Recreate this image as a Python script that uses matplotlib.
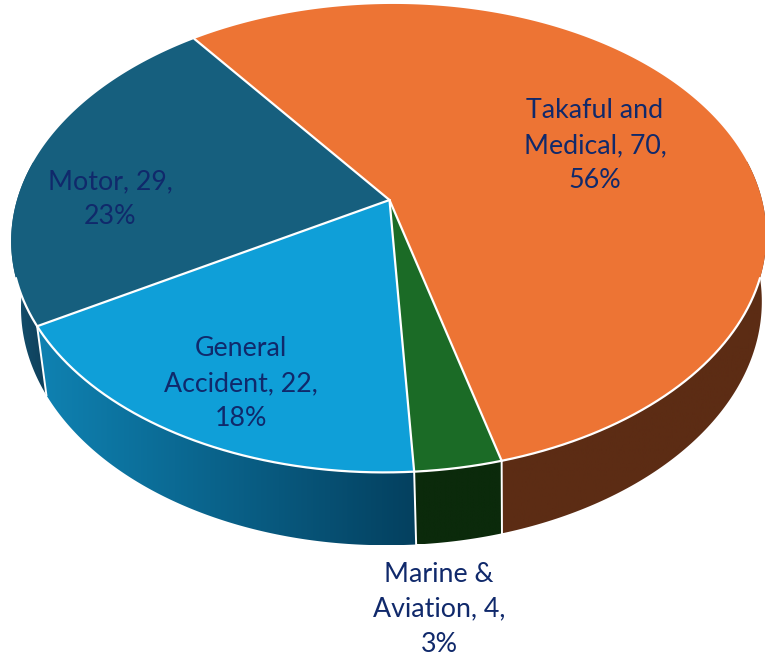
import numpy as np
import matplotlib
matplotlib.use("Agg")
import matplotlib.pyplot as plt
from matplotlib.colors import LinearSegmentedColormap
from matplotlib.patches import Polygon

values = [70, 4, 22, 29]
label_texts = ["Takaful and\nMedical, 70,\n56%", "Marine &\nAviation, 4,\n3%", "General\nAccident, 22,\n18%", "Motor, 29,\n23%"]
label_pos = [(595, 146), (439, 609), (241, 384), (110, 199)]
top_colors = ["#ED7434", "#1B6B26", "#0F9FD8", "#165F7E"]
side_colors = [("#5C2C14", "#5C2C14"), ("#0B2A0B", "#0B2A0B"), ("#0F82B2", "#04405F"), ("#14516F", "#0E3F5A")]
TEXT_COLOR = "#10296B"

# perspektywa: srodek kola na (389, 200)
X0, Y0 = 389.5, 200.0
A, B, K = 372.5, 228.0, 0.163
SKEW = -0.02
START = -37.0
LOW_DX, LOW_DY, LOW_SX, LOW_SY = 4.0, 65.5, 0.981, 1.027


def rim(ang, lower=False):
    a = np.radians(ang)
    u, v = np.sin(a), np.cos(a)
    den = 1 + K * v
    x = A * u / den
    y = -B * v / den
    if lower:
        y = LOW_DY + LOW_SY * y
        x = LOW_DX + LOW_SX * x
    return X0 + x + SKEW * y, Y0 + y


fig = plt.figure(figsize=(7.65, 6.55), dpi=100)
ax = fig.add_axes([0, 0, 1, 1])
ax.set_xlim(0, 765)
ax.set_ylim(655, 0)
ax.axis("off")

sweeps = np.array(values) / sum(values) * 360
edges = START + np.concatenate([[0], np.cumsum(sweeps)])

# sciany boczne (widoczna jest tylko dolna polowa)
for i in range(len(values)):
    a0, a1 = edges[i], edges[i + 1]
    a0 = max(a0, 80) if i == 0 else a0
    a1 = min(a1, 280) if i == 3 else a1
    t = np.linspace(a0, a1, 120)
    xt, yt = rim(t)
    xb, yb = rim(t, lower=True)
    pts = np.column_stack([np.r_[xt, xb[::-1]], np.r_[yt, yb[::-1]]])
    poly = Polygon(pts, closed=True, fc="none", ec="none", zorder=2)
    ax.add_patch(poly)
    cmap = LinearSegmentedColormap.from_list("s", side_colors[i])
    im = ax.imshow(np.linspace(0, 1, 256)[None, :], cmap=cmap, aspect="auto", zorder=2,
                   extent=(pts[:, 0].min(), pts[:, 0].max(), pts[:, 1].max(), pts[:, 1].min()))
    im.set_clip_path(poly)
ax.set_xlim(0, 765)
ax.set_ylim(655, 0)

# wierzch
for i in range(len(values)):
    t = np.linspace(edges[i], edges[i + 1], 240)
    xt, yt = rim(t)
    pts = np.column_stack([np.r_[X0, xt], np.r_[Y0, yt]])
    ax.add_patch(Polygon(pts, closed=True, fc=top_colors[i], ec="none", zorder=3))

# biale linie
t = np.linspace(109, 251, 400)
xt, yt = rim(t)
ax.plot(xt, yt, color="white", lw=1.6, zorder=4)
for e in edges[:-1]:
    xt, yt = rim(e)
    ax.plot([X0, xt], [Y0, yt], color="white", lw=1.6, zorder=4, solid_capstyle="round")
    if 90 < (e % 360) < 270:
        xb, yb = rim(e, lower=True)
        ax.plot([xt, xb], [yt, yb], color="white", lw=1.4, zorder=4)

for txt, pos in zip(label_texts, label_pos):
    ax.text(pos[0], pos[1], txt, ha="center", va="center", color=TEXT_COLOR,
            fontsize=19.3, family="Lato", linespacing=1.5, zorder=5)

fig.savefig("out.png", dpi=100)
